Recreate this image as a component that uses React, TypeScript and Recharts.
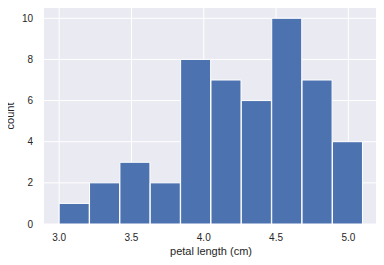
import React from 'react';
import { BarChart, Bar, XAxis, YAxis, CartesianGrid } from 'recharts';

// histogram of petal length, 10 bins from 3.0 to 5.1
const binEdges = [3.0, 3.21, 3.42, 3.63, 3.84, 4.05, 4.26, 4.47, 4.68, 4.89, 5.1];
const counts = [1, 2, 3, 2, 8, 7, 6, 10, 7, 4];
const xTicks = [3.0, 3.5, 4.0, 4.5, 5.0];
const yTicks = [0, 2, 4, 6, 8, 10];

const data = counts.map((count, i) => ({
  center: (binEdges[i] + binEdges[i + 1]) / 2,
  count,
}));

const textColor = '#262626';
const font = '"Liberation Sans", Arial, sans-serif';

const App: React.FC = () => {
  return (
    <div style={{ margin: -8, fontFamily: font }}>
      <BarChart
        width={384}
        height={265}
        data={data}
        margin={{ top: 8, right: 6, left: 0, bottom: 0 }}
        barCategoryGap={0}
        barGap={0}
      >
        <CartesianGrid fill="#EAEAF2" stroke="#ffffff" strokeWidth={1} verticalValues={xTicks} horizontalValues={yTicks} />
        <XAxis
          dataKey="center"
          type="number"
          domain={[2.895, 5.205]}
          ticks={xTicks}
          tickFormatter={(v: number) => v.toFixed(1)}
          axisLine={false}
          tickLine={false}
          tickSize={0}
          tickMargin={10}
          height={41}
          tick={{ fill: textColor, fontSize: 10, fontFamily: font }}
          label={{ value: 'petal length (cm)', position: 'insideBottom', offset: 10, fill: textColor, fontSize: 11, fontFamily: font }}
        />
        <YAxis
          type="number"
          domain={[0, 10.5]}
          ticks={yTicks}
          axisLine={false}
          tickLine={false}
          tickSize={0}
          tickMargin={11}
          width={44}
          tick={{ fill: textColor, fontSize: 10, fontFamily: font }}
          label={({ viewBox }: any) => {
            const cx = viewBox.x + 14;
            const cy = viewBox.y + viewBox.height / 2;
            return (
              <text x={cx} y={cy} transform={`rotate(-90 ${cx} ${cy})`} textAnchor="middle" fill={textColor} fontSize={11} fontFamily={font}>
                count
              </text>
            );
          }}
        />
        <Bar dataKey="count" fill="#4C72B0" stroke="#ffffff" strokeWidth={1} isAnimationActive={false} />
      </BarChart>
    </div>
  );
};

export default App;
